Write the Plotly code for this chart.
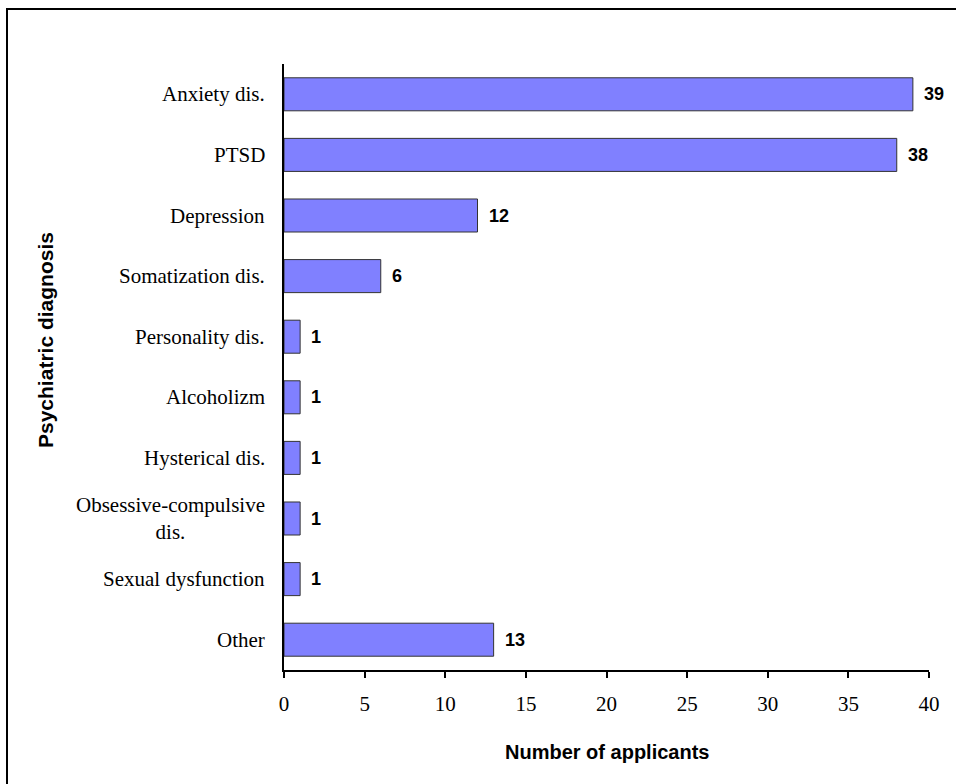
import plotly.graph_objects as go

categories = ["Anxiety dis.", "PTSD", "Depression", "Somatization dis.", "Personality dis.",
              "Alcoholizm", "Hysterical dis.", "Obsessive-compulsive<br>dis.",
              "Sexual dysfunction", "Other"]
values = [39, 38, 12, 6, 1, 1, 1, 1, 1, 13]
x_ticks = [0, 5, 10, 15, 20, 25, 30, 35, 40]

W, H = 956, 784
L, R, T, B = 284, 27, 64, 114
pw, ph = W - L - R, H - T - B

def px_x(p):
    return (p - L) / pw

def px_y(p):
    return (H - B - p) / ph

fig = go.Figure(go.Bar(
    y=categories, x=values, orientation="h",
    marker=dict(color="#8080FF", line=dict(color="#333333", width=1)),
    hoverinfo="x+y",
))

ann = []
for c, v in zip(categories, values):
    ann.append(dict(x=0, xref="paper", y=c, yref="y", text=c, showarrow=False,
                    xanchor="right", yanchor="middle", align="center", xshift=-17,
                    font=dict(family="Liberation Serif", size=21, color="black")))
    ann.append(dict(x=v, xref="x", y=c, yref="y", text=str(v), showarrow=False,
                    xanchor="left", yanchor="middle", xshift=9,
                    font=dict(family="Liberation Sans", size=18, color="black", weight="bold")))

ann.append(dict(x=px_x(607), xref="paper", y=px_y(752), yref="paper", text="Number of applicants",
                showarrow=False, xanchor="center", yanchor="middle",
                font=dict(family="Liberation Sans", size=20, color="black", weight="bold")))
ann.append(dict(x=px_x(45), xref="paper", y=px_y(340), yref="paper", text="Psychiatric diagnosis",
                showarrow=False, xanchor="center", yanchor="middle", textangle=-90,
                font=dict(family="Liberation Sans", size=21, color="black", weight="bold")))

fig.update_layout(
    width=W, height=H,
    margin=dict(l=L, r=R, t=T, b=B, pad=0),
    paper_bgcolor="white", plot_bgcolor="white",
    showlegend=False,
    bargap=0.455,
    annotations=ann,
    shapes=[dict(type="rect", xref="paper", yref="paper",
                 x0=px_x(7), x1=px_x(970), y0=px_y(800), y1=px_y(9),
                 line=dict(color="black", width=2), fillcolor="rgba(0,0,0,0)", layer="below")],
    xaxis=dict(range=[0, 40], tickvals=x_ticks, ticktext=[str(t) for t in x_ticks],
               showgrid=False, zeroline=False, showline=True, linecolor="black", linewidth=2,
               ticks="outside", ticklen=6, tickwidth=2, tickcolor="black",
               ticklabelstandoff=8,
               tickfont=dict(family="Liberation Serif", size=21, color="black"),
               fixedrange=True),
    yaxis=dict(autorange="reversed", showticklabels=False, showgrid=False, zeroline=False,
               showline=True, linecolor="black", linewidth=2, ticks="", fixedrange=True),
)

fig.write_html("out.html")
